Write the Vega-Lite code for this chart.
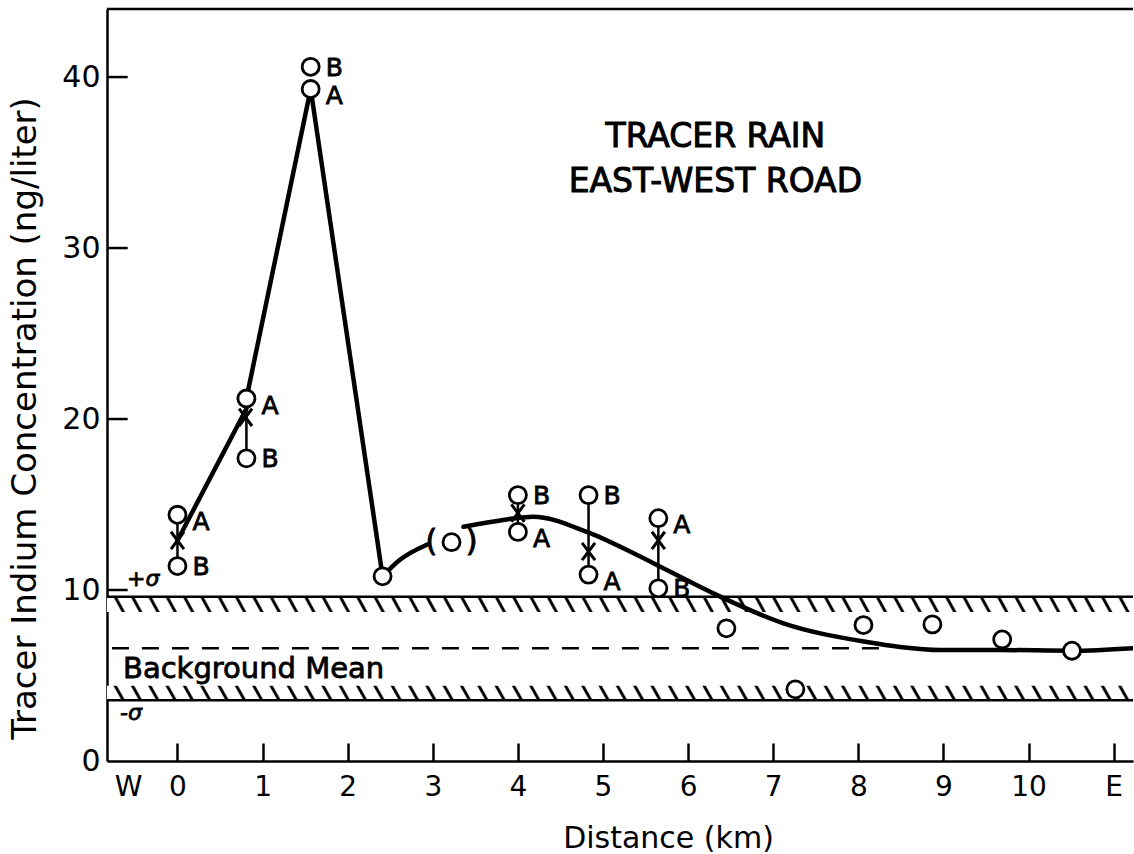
{
  "$schema": "https://vega.github.io/schema/vega-lite/v6.json",
  "width": 1026,
  "height": 752,
  "autosize": {"type": "none"},
  "padding": {"left": 107, "top": 9, "right": 1, "bottom": 93},
  "background": "white",
  "config": {
    "view": {"stroke": null},
    "font": "DejaVu Sans",
    "axis": {
      "grid": false,
      "domainColor": "black",
      "domainWidth": 2.5,
      "tickColor": "black",
      "tickWidth": 2.5,
      "labelColor": "black",
      "titleColor": "black",
      "labelFont": "DejaVu Sans",
      "titleFont": "DejaVu Sans",
      "titleFontWeight": "normal",
      "labelOverlap": false,
      "labelFlush": false
    }
  },
  "datasets": {
    "samples": [
      {"x": 0, "y": 14.4, "label": "A"},
      {"x": 0, "y": 11.4, "label": "B"},
      {"x": 0.81, "y": 21.2, "label": "A"},
      {"x": 0.81, "y": 17.7, "label": "B"},
      {"x": 1.565, "y": 39.3, "label": "A"},
      {"x": 1.565, "y": 40.6, "label": "B"},
      {"x": 2.41, "y": 10.8, "label": ""},
      {"x": 3.22, "y": 12.8, "label": ""},
      {"x": 4.0, "y": 13.4, "label": "A"},
      {"x": 4.0, "y": 15.55, "label": "B"},
      {"x": 4.83, "y": 10.9, "label": "A"},
      {"x": 4.83, "y": 15.55, "label": "B"},
      {"x": 5.65, "y": 14.2, "label": "A"},
      {"x": 5.65, "y": 10.1, "label": "B"},
      {"x": 6.45, "y": 7.76, "label": ""},
      {"x": 7.26, "y": 4.19, "label": ""},
      {"x": 8.06, "y": 7.95, "label": ""},
      {"x": 8.87, "y": 7.99, "label": ""},
      {"x": 9.69, "y": 7.11, "label": ""},
      {"x": 10.51, "y": 6.45, "label": ""}
    ],
    "means": [
      {"x": 0, "y": 12.9},
      {"x": 0.8, "y": 20.1},
      {"x": 4.0, "y": 14.5},
      {"x": 4.83, "y": 12.25},
      {"x": 5.65, "y": 12.9}
    ],
    "ranges": [
      {"x": 0, "lo": 11.4, "hi": 14.4},
      {"x": 0.81, "lo": 17.7, "hi": 21.2},
      {"x": 4.0, "lo": 13.4, "hi": 15.55},
      {"x": 4.83, "lo": 10.9, "hi": 15.55},
      {"x": 5.65, "lo": 10.1, "hi": 14.2}
    ],
    "polyline": [
      {"x": 0, "y": 12.9, "seg": 1},
      {"x": 0.81, "y": 20.6, "seg": 1},
      {"x": 0.81, "y": 21.2, "seg": 2},
      {"x": 1.565, "y": 39.3, "seg": 2},
      {"x": 2.41, "y": 10.8, "seg": 2}
    ],
    "curve": [
      {"x": 2.41, "y": 10.8, "seg": "a"},
      {"x": 2.61, "y": 11.75, "seg": "a"},
      {"x": 2.93, "y": 12.65, "seg": "a"},
      {"x": 3.36, "y": 13.7, "seg": "b"},
      {"x": 3.87, "y": 14.13, "seg": "b"},
      {"x": 4.18, "y": 14.29, "seg": "b"},
      {"x": 4.81, "y": 13.4, "seg": "b"},
      {"x": 5.36, "y": 12.15, "seg": "b"},
      {"x": 5.75, "y": 11.17, "seg": "b"},
      {"x": 6.34, "y": 9.7, "seg": "b"},
      {"x": 7.12, "y": 8.05, "seg": "b"},
      {"x": 8.10, "y": 6.96, "seg": "b"},
      {"x": 8.49, "y": 6.67, "seg": "b"},
      {"x": 8.96, "y": 6.49, "seg": "b"},
      {"x": 9.67, "y": 6.49, "seg": "b"},
      {"x": 10.51, "y": 6.45, "seg": "b"},
      {"x": 11.23, "y": 6.6, "seg": "b"}
    ],
    "bands": [
      {"y": 9.6, "y2": 8.72},
      {"y": 4.4, "y2": 3.55}
    ],
    "levels": [
      {"y": 9.6},
      {"y": 3.55}
    ],
    "mean": [
      {"y": 6.6}
    ],
    "ytickvals": [
      {"v": 10},
      {"v": 20},
      {"v": 30},
      {"v": 40}
    ],
    "titleText": [
      {"x": 6.32, "y": 35.9, "text": "TRACER RAIN"},
      {"x": 6.32, "y": 33.27, "text": "EAST-WEST ROAD"}
    ],
    "bgText": [
      {"x": -0.64, "y": 4.85, "text": "Background Mean"}
    ],
    "sigmaText": [
      {"x": -0.593, "y": 10.64, "text": "+σ"},
      {"x": -0.676, "y": 2.78, "text": "-σ"}
    ],
    "parenText": [
      {"x": 3.22, "y": 12.8, "text": "(\u00a0\u00a0\u00a0)"}
    ]
  },
  "layer": [
    {
      "data": {"name": "bands"},
      "mark": {
        "type": "rect",
        "fill": {
          "gradient": "linear",
          "x1": 0, "y1": 0.008, "x2": 1, "y2": 0,
          "stops": [
            {"offset": 0.0056, "color": "white"}, {"offset": 0.0071, "color": "black"}, {"offset": 0.0089, "color": "black"}, {"offset": 0.0104, "color": "white"},
            {"offset": 0.02248, "color": "white"}, {"offset": 0.02398, "color": "black"}, {"offset": 0.02578, "color": "black"}, {"offset": 0.02728, "color": "white"},
            {"offset": 0.03936, "color": "white"}, {"offset": 0.04086, "color": "black"}, {"offset": 0.04266, "color": "black"}, {"offset": 0.04416, "color": "white"},
            {"offset": 0.05624, "color": "white"}, {"offset": 0.05774, "color": "black"}, {"offset": 0.05954, "color": "black"}, {"offset": 0.06104, "color": "white"},
            {"offset": 0.07312, "color": "white"}, {"offset": 0.07462, "color": "black"}, {"offset": 0.07642, "color": "black"}, {"offset": 0.07792, "color": "white"},
            {"offset": 0.09, "color": "white"}, {"offset": 0.0915, "color": "black"}, {"offset": 0.0933, "color": "black"}, {"offset": 0.0948, "color": "white"},
            {"offset": 0.10688, "color": "white"}, {"offset": 0.10838, "color": "black"}, {"offset": 0.11018, "color": "black"}, {"offset": 0.11168, "color": "white"},
            {"offset": 0.12376, "color": "white"}, {"offset": 0.12526, "color": "black"}, {"offset": 0.12706, "color": "black"}, {"offset": 0.12856, "color": "white"},
            {"offset": 0.14064, "color": "white"}, {"offset": 0.14214, "color": "black"}, {"offset": 0.14394, "color": "black"}, {"offset": 0.14544, "color": "white"},
            {"offset": 0.15752, "color": "white"}, {"offset": 0.15902, "color": "black"}, {"offset": 0.16082, "color": "black"}, {"offset": 0.16232, "color": "white"},
            {"offset": 0.1744, "color": "white"}, {"offset": 0.1759, "color": "black"}, {"offset": 0.1777, "color": "black"}, {"offset": 0.1792, "color": "white"},
            {"offset": 0.19128, "color": "white"}, {"offset": 0.19278, "color": "black"}, {"offset": 0.19458, "color": "black"}, {"offset": 0.19608, "color": "white"},
            {"offset": 0.20816, "color": "white"}, {"offset": 0.20966, "color": "black"}, {"offset": 0.21146, "color": "black"}, {"offset": 0.21296, "color": "white"},
            {"offset": 0.22504, "color": "white"}, {"offset": 0.22654, "color": "black"}, {"offset": 0.22834, "color": "black"}, {"offset": 0.22984, "color": "white"},
            {"offset": 0.24192, "color": "white"}, {"offset": 0.24342, "color": "black"}, {"offset": 0.24522, "color": "black"}, {"offset": 0.24672, "color": "white"},
            {"offset": 0.2588, "color": "white"}, {"offset": 0.2603, "color": "black"}, {"offset": 0.2621, "color": "black"}, {"offset": 0.2636, "color": "white"},
            {"offset": 0.27568, "color": "white"}, {"offset": 0.27718, "color": "black"}, {"offset": 0.27898, "color": "black"}, {"offset": 0.28048, "color": "white"},
            {"offset": 0.29256, "color": "white"}, {"offset": 0.29406, "color": "black"}, {"offset": 0.29586, "color": "black"}, {"offset": 0.29736, "color": "white"},
            {"offset": 0.30944, "color": "white"}, {"offset": 0.31094, "color": "black"}, {"offset": 0.31274, "color": "black"}, {"offset": 0.31424, "color": "white"},
            {"offset": 0.32632, "color": "white"}, {"offset": 0.32782, "color": "black"}, {"offset": 0.32962, "color": "black"}, {"offset": 0.33112, "color": "white"},
            {"offset": 0.3432, "color": "white"}, {"offset": 0.3447, "color": "black"}, {"offset": 0.3465, "color": "black"}, {"offset": 0.348, "color": "white"},
            {"offset": 0.36008, "color": "white"}, {"offset": 0.36158, "color": "black"}, {"offset": 0.36338, "color": "black"}, {"offset": 0.36488, "color": "white"},
            {"offset": 0.37696, "color": "white"}, {"offset": 0.37846, "color": "black"}, {"offset": 0.38026, "color": "black"}, {"offset": 0.38176, "color": "white"},
            {"offset": 0.39384, "color": "white"}, {"offset": 0.39534, "color": "black"}, {"offset": 0.39714, "color": "black"}, {"offset": 0.39864, "color": "white"},
            {"offset": 0.41072, "color": "white"}, {"offset": 0.41222, "color": "black"}, {"offset": 0.41402, "color": "black"}, {"offset": 0.41552, "color": "white"},
            {"offset": 0.4276, "color": "white"}, {"offset": 0.4291, "color": "black"}, {"offset": 0.4309, "color": "black"}, {"offset": 0.4324, "color": "white"},
            {"offset": 0.44448, "color": "white"}, {"offset": 0.44598, "color": "black"}, {"offset": 0.44778, "color": "black"}, {"offset": 0.44928, "color": "white"},
            {"offset": 0.46136, "color": "white"}, {"offset": 0.46286, "color": "black"}, {"offset": 0.46466, "color": "black"}, {"offset": 0.46616, "color": "white"},
            {"offset": 0.47824, "color": "white"}, {"offset": 0.47974, "color": "black"}, {"offset": 0.48154, "color": "black"}, {"offset": 0.48304, "color": "white"},
            {"offset": 0.49512, "color": "white"}, {"offset": 0.49662, "color": "black"}, {"offset": 0.49842, "color": "black"}, {"offset": 0.49992, "color": "white"},
            {"offset": 0.512, "color": "white"}, {"offset": 0.5135, "color": "black"}, {"offset": 0.5153, "color": "black"}, {"offset": 0.5168, "color": "white"},
            {"offset": 0.52888, "color": "white"}, {"offset": 0.53038, "color": "black"}, {"offset": 0.53218, "color": "black"}, {"offset": 0.53368, "color": "white"},
            {"offset": 0.54576, "color": "white"}, {"offset": 0.54726, "color": "black"}, {"offset": 0.54906, "color": "black"}, {"offset": 0.55056, "color": "white"},
            {"offset": 0.56264, "color": "white"}, {"offset": 0.56414, "color": "black"}, {"offset": 0.56594, "color": "black"}, {"offset": 0.56744, "color": "white"},
            {"offset": 0.57952, "color": "white"}, {"offset": 0.58102, "color": "black"}, {"offset": 0.58282, "color": "black"}, {"offset": 0.58432, "color": "white"},
            {"offset": 0.5964, "color": "white"}, {"offset": 0.5979, "color": "black"}, {"offset": 0.5997, "color": "black"}, {"offset": 0.6012, "color": "white"},
            {"offset": 0.61328, "color": "white"}, {"offset": 0.61478, "color": "black"}, {"offset": 0.61658, "color": "black"}, {"offset": 0.61808, "color": "white"},
            {"offset": 0.63016, "color": "white"}, {"offset": 0.63166, "color": "black"}, {"offset": 0.63346, "color": "black"}, {"offset": 0.63496, "color": "white"},
            {"offset": 0.64704, "color": "white"}, {"offset": 0.64854, "color": "black"}, {"offset": 0.65034, "color": "black"}, {"offset": 0.65184, "color": "white"},
            {"offset": 0.66392, "color": "white"}, {"offset": 0.66542, "color": "black"}, {"offset": 0.66722, "color": "black"}, {"offset": 0.66872, "color": "white"},
            {"offset": 0.6808, "color": "white"}, {"offset": 0.6823, "color": "black"}, {"offset": 0.6841, "color": "black"}, {"offset": 0.6856, "color": "white"},
            {"offset": 0.69768, "color": "white"}, {"offset": 0.69918, "color": "black"}, {"offset": 0.70098, "color": "black"}, {"offset": 0.70248, "color": "white"},
            {"offset": 0.71456, "color": "white"}, {"offset": 0.71606, "color": "black"}, {"offset": 0.71786, "color": "black"}, {"offset": 0.71936, "color": "white"},
            {"offset": 0.73144, "color": "white"}, {"offset": 0.73294, "color": "black"}, {"offset": 0.73474, "color": "black"}, {"offset": 0.73624, "color": "white"},
            {"offset": 0.74832, "color": "white"}, {"offset": 0.74982, "color": "black"}, {"offset": 0.75162, "color": "black"}, {"offset": 0.75312, "color": "white"},
            {"offset": 0.7652, "color": "white"}, {"offset": 0.7667, "color": "black"}, {"offset": 0.7685, "color": "black"}, {"offset": 0.77, "color": "white"},
            {"offset": 0.78208, "color": "white"}, {"offset": 0.78358, "color": "black"}, {"offset": 0.78538, "color": "black"}, {"offset": 0.78688, "color": "white"},
            {"offset": 0.79896, "color": "white"}, {"offset": 0.80046, "color": "black"}, {"offset": 0.80226, "color": "black"}, {"offset": 0.80376, "color": "white"},
            {"offset": 0.81584, "color": "white"}, {"offset": 0.81734, "color": "black"}, {"offset": 0.81914, "color": "black"}, {"offset": 0.82064, "color": "white"},
            {"offset": 0.83272, "color": "white"}, {"offset": 0.83422, "color": "black"}, {"offset": 0.83602, "color": "black"}, {"offset": 0.83752, "color": "white"},
            {"offset": 0.8496, "color": "white"}, {"offset": 0.8511, "color": "black"}, {"offset": 0.8529, "color": "black"}, {"offset": 0.8544, "color": "white"},
            {"offset": 0.86648, "color": "white"}, {"offset": 0.86798, "color": "black"}, {"offset": 0.86978, "color": "black"}, {"offset": 0.87128, "color": "white"},
            {"offset": 0.88336, "color": "white"}, {"offset": 0.88486, "color": "black"}, {"offset": 0.88666, "color": "black"}, {"offset": 0.88816, "color": "white"},
            {"offset": 0.90024, "color": "white"}, {"offset": 0.90174, "color": "black"}, {"offset": 0.90354, "color": "black"}, {"offset": 0.90504, "color": "white"},
            {"offset": 0.91712, "color": "white"}, {"offset": 0.91862, "color": "black"}, {"offset": 0.92042, "color": "black"}, {"offset": 0.92192, "color": "white"},
            {"offset": 0.934, "color": "white"}, {"offset": 0.9355, "color": "black"}, {"offset": 0.9373, "color": "black"}, {"offset": 0.9388, "color": "white"},
            {"offset": 0.95088, "color": "white"}, {"offset": 0.95238, "color": "black"}, {"offset": 0.95418, "color": "black"}, {"offset": 0.95568, "color": "white"},
            {"offset": 0.96776, "color": "white"}, {"offset": 0.96926, "color": "black"}, {"offset": 0.97106, "color": "black"}, {"offset": 0.97256, "color": "white"},
            {"offset": 0.98464, "color": "white"}, {"offset": 0.98614, "color": "black"}, {"offset": 0.98794, "color": "black"}, {"offset": 0.98944, "color": "white"}
          ]
        }
      },
      "encoding": {
        "x": {"datum": -0.828, "type": "quantitative", "scale": {"domain": [-0.828, 11.227], "nice": false, "zero": false}},
        "x2": {"datum": 11.227},
        "y": {"field": "y", "type": "quantitative", "scale": {"domain": [0, 43.98], "nice": false, "zero": false}},
        "y2": {"field": "y2"}
      }
    },
    {
      "data": {"name": "levels"},
      "mark": {"type": "rule", "stroke": "black", "strokeWidth": 2.5},
      "encoding": {
        "x": {"datum": -0.828, "type": "quantitative", "scale": {"domain": [-0.828, 11.227], "nice": false, "zero": false}},
        "x2": {"datum": 11.227},
        "y": {"field": "y", "type": "quantitative", "scale": {"domain": [0, 43.98], "nice": false, "zero": false}}
      }
    },
    {
      "data": {"name": "mean"},
      "mark": {"type": "rule", "stroke": "black", "strokeWidth": 2.5, "strokeDash": [17, 13]},
      "encoding": {
        "x": {"datum": -0.77, "type": "quantitative", "scale": {"domain": [-0.828, 11.227], "nice": false, "zero": false}},
        "x2": {"datum": 8.3},
        "y": {"field": "y", "type": "quantitative", "scale": {"domain": [0, 43.98], "nice": false, "zero": false}}
      }
    },
    {
      "data": {"values": [{}]},
      "mark": {"type": "rule", "stroke": "black", "strokeWidth": 2.5},
      "encoding": {
        "x": {"datum": -0.828, "type": "quantitative", "scale": {"domain": [-0.828, 11.227], "nice": false, "zero": false}},
        "x2": {"datum": 11.227},
        "y": {"datum": 43.98, "type": "quantitative", "scale": {"domain": [0, 43.98], "nice": false, "zero": false}}
      }
    },
    {
      "data": {"name": "polyline"},
      "mark": {"type": "line", "stroke": "black", "strokeWidth": 4.5, "strokeCap": "round", "strokeJoin": "round"},
      "encoding": {
        "x": {"field": "x", "type": "quantitative"},
        "y": {"field": "y", "type": "quantitative"},
        "detail": {"field": "seg"}
      }
    },
    {
      "data": {"name": "curve"},
      "mark": {"type": "line", "stroke": "black", "strokeWidth": 4.5, "strokeCap": "round", "interpolate": "monotone", "clip": true},
      "encoding": {
        "x": {"field": "x", "type": "quantitative"},
        "y": {"field": "y", "type": "quantitative"},
        "detail": {"field": "seg"}
      }
    },
    {
      "data": {"name": "ranges"},
      "mark": {"type": "rule", "stroke": "black", "strokeWidth": 2.5},
      "encoding": {
        "x": {"field": "x", "type": "quantitative"},
        "y": {"field": "lo", "type": "quantitative"},
        "y2": {"field": "hi"}
      }
    },
    {
      "data": {"name": "means"},
      "mark": {"type": "point", "shape": "M-0.75,-1L0.75,1M-0.75,1L0.75,-1", "filled": false, "stroke": "black", "strokeWidth": 3, "size": 300, "opacity": 1},
      "encoding": {
        "x": {"field": "x", "type": "quantitative"},
        "y": {"field": "y", "type": "quantitative"}
      }
    },
    {
      "data": {"name": "samples"},
      "mark": {"type": "point", "shape": "circle", "filled": true, "fill": "white", "stroke": "black", "strokeWidth": 2.8, "size": 290, "opacity": 1, "fillOpacity": 1},
      "encoding": {
        "x": {
          "field": "x",
          "type": "quantitative",
          "title": "Distance (km)",
          "scale": {"domain": [-0.828, 11.227], "nice": false, "zero": false},
          "axis": {
            "values": [-0.58, 0, 1, 2, 3, 4, 5, 6, 7, 8, 9, 10, 11],
            "labelExpr": "datum.value < 0 ? 'W' : (datum.value > 10.5 ? 'E' : format(datum.value, 'd'))",
            "ticks": true,
            "tickSize": -18,
            "tickOpacity": {"condition": {"test": "datum.value < 0", "value": 0}, "value": 1},
            "labelFontSize": 28,
            "labelPadding": 30,
            "titleFontSize": 30,
            "titleX": 561,
            "titleY": 86,
            "titleBaseline": "alphabetic",
            "titleAlign": "center"
          }
        },
        "y": {
          "field": "y",
          "type": "quantitative",
          "title": "Tracer Indium Concentration (ng/liter)",
          "scale": {"domain": [0, 43.98], "nice": false, "zero": false},
          "axis": {
            "values": [0, 10, 20, 30, 40],
            "ticks": false,
            "labelFontSize": 30,
            "labelPadding": 7,
            "titleFontSize": 34,
            "titleX": -72,
            "titleY": 409,
            "titleAngle": -90,
            "titleBaseline": "alphabetic",
            "titleAlign": "center"
          }
        }
      }
    },
    {
      "data": {"name": "ytickvals"},
      "mark": {"type": "rule", "stroke": "black", "strokeWidth": 2.5},
      "encoding": {
        "x": {"datum": -0.828, "type": "quantitative"},
        "x2": {"datum": -0.585},
        "y": {"field": "v", "type": "quantitative"}
      }
    },
    {
      "data": {"name": "samples"},
      "transform": [{"filter": "datum.label == 'A'"}],
      "mark": {"type": "text", "align": "left", "baseline": "middle", "dx": 15, "dy": 7, "fontSize": 25, "font": "DejaVu Sans", "fill": "black", "stroke": "black", "strokeWidth": 0.8},
      "encoding": {
        "x": {"field": "x", "type": "quantitative"},
        "y": {"field": "y", "type": "quantitative"},
        "text": {"field": "label"}
      }
    },
    {
      "data": {"name": "samples"},
      "transform": [{"filter": "datum.label == 'B'"}],
      "mark": {"type": "text", "align": "left", "baseline": "middle", "dx": 15, "dy": 1, "fontSize": 25, "font": "DejaVu Sans", "fill": "black", "stroke": "black", "strokeWidth": 0.8},
      "encoding": {
        "x": {"field": "x", "type": "quantitative"},
        "y": {"field": "y", "type": "quantitative"},
        "text": {"field": "label"}
      }
    },
    {
      "data": {"name": "parenText"},
      "mark": {"type": "text", "align": "center", "baseline": "middle", "fontSize": 30, "font": "DejaVu Sans", "fill": "black", "stroke": "black", "strokeWidth": 1},
      "encoding": {
        "x": {"field": "x", "type": "quantitative"},
        "y": {"field": "y", "type": "quantitative"},
        "text": {"field": "text"}
      }
    },
    {
      "data": {"name": "titleText"},
      "mark": {"type": "text", "align": "center", "baseline": "alphabetic", "fontSize": 33, "font": "DejaVu Sans", "fill": "black", "stroke": "black", "strokeWidth": 1},
      "encoding": {
        "x": {"field": "x", "type": "quantitative"},
        "y": {"field": "y", "type": "quantitative"},
        "text": {"field": "text"}
      }
    },
    {
      "data": {"name": "bgText"},
      "mark": {"type": "text", "align": "left", "baseline": "alphabetic", "fontSize": 29, "font": "DejaVu Sans", "fill": "black", "stroke": "black", "strokeWidth": 0.8},
      "encoding": {
        "x": {"field": "x", "type": "quantitative"},
        "y": {"field": "y", "type": "quantitative"},
        "text": {"field": "text"}
      }
    },
    {
      "data": {"name": "sigmaText"},
      "mark": {"type": "text", "align": "left", "baseline": "middle", "fontSize": 22, "font": "DejaVu Sans", "fontStyle": "italic", "fill": "black", "stroke": "black", "strokeWidth": 0.8},
      "encoding": {
        "x": {"field": "x", "type": "quantitative"},
        "y": {"field": "y", "type": "quantitative"},
        "text": {"field": "text"}
      }
    }
  ]
}
